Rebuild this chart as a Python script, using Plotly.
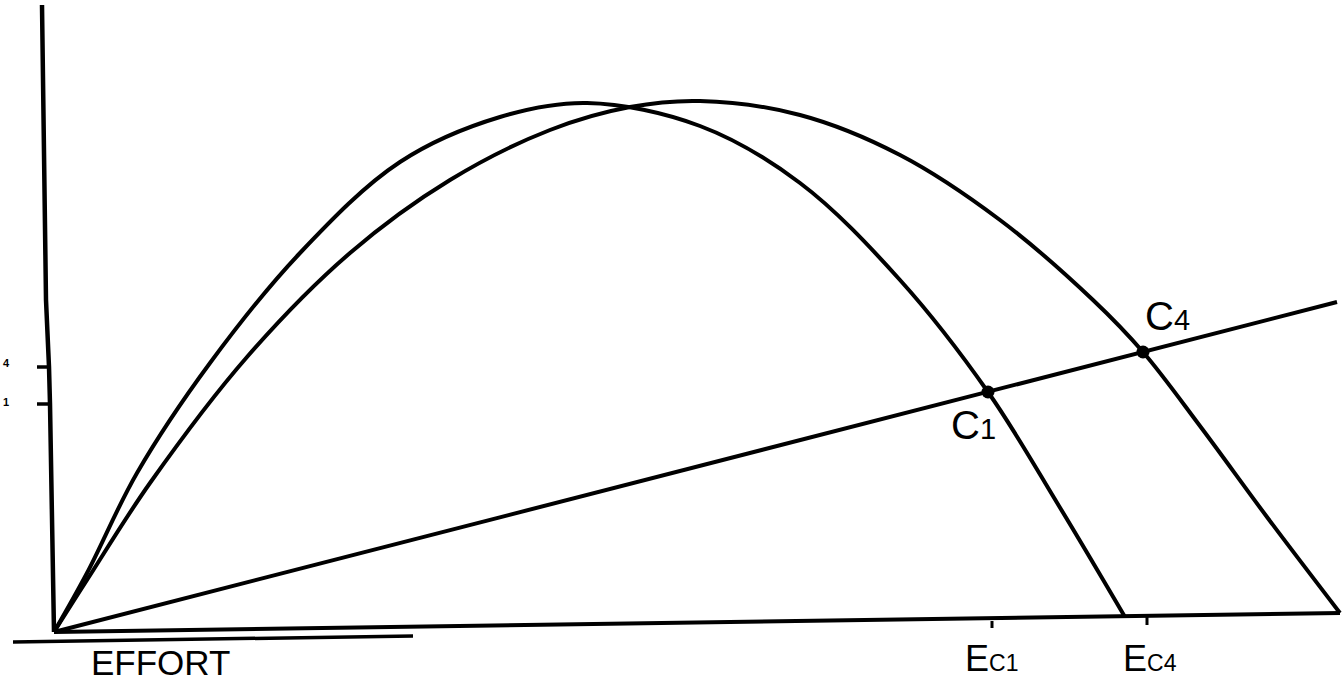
import plotly.graph_objects as go

# Yield-effort curve 1 (peaks earlier) - effort units, yield units
curve1_effort = [0, 3.3, 8.3, 15.6, 24.6, 34.6, 44.6, 53.3, 64.6, 74.6, 84.6, 93.4, 100.5, 107.1]
curve1_yield = [0, 5.9, 15.9, 26.9, 37.9, 47.0, 51.5, 52.9, 50.6, 44.9, 35.2, 24.0, 12.6, 1.5]

# Yield-effort curve 4 (peaks later)
curve4_effort = [0, 3.3, 9.6, 19.3, 29.6, 39.6, 49.6, 57.6, 64.6, 74.6, 84.6, 94.6, 103.9,
                 108.9, 114.6, 121.3, 128.6]
curve4_yield = [0, 5.2, 14.9, 27.5, 37.9, 45.2, 50.2, 52.5, 53.1, 51.7, 47.7, 41.2, 33.2,
                28.0, 20.6, 11.5, 1.9]

# Cost line
cost_effort = [0, 128.3]
cost_value = [0, 33.0]

# Equilibrium points
eq_labels = ["C<span style='font-size:29px'>1</span>", "C<span style='font-size:29px'>4</span>"]
eq_effort = [93.4, 108.9]
eq_value = [24.0, 28.0]
eq_label_x = [91.9, 111.3]
eq_label_y = [20.7, 31.6]

# Axes (as drawn, slightly tilted scan)
xaxis_x = [0, 128.6]
xaxis_y = [0, 1.9]
underline_x = [-4.1, 35.9]
underline_y = [-1.0, -0.4]
yaxis_x = [-1.2, -0.8, -0.5, -0.4, 0]
yaxis_y = [62.7, 33.2, 26.5, 22.8, 0]

# Tick marks
ytick_vals = [26.5, 22.8]
ytick_labels = ["4", "1"]
xtick_vals = [93.8, 109.3]
xtick_top = [1.1, 1.5]
xtick_bottom = [0.4, 0.7]
xtick_labels = ["E<span style='font-size:23px'>C1</span>", "E<span style='font-size:23px'>C4</span>"]

black = "#000000"
fig = go.Figure()

line_w = 4
fig.add_trace(go.Scatter(x=curve1_effort, y=curve1_yield, mode="lines",
                         line=dict(color=black, width=line_w, shape="spline", smoothing=1.0)))
fig.add_trace(go.Scatter(x=curve4_effort, y=curve4_yield, mode="lines",
                         line=dict(color=black, width=line_w, shape="spline", smoothing=1.0)))
fig.add_trace(go.Scatter(x=cost_effort, y=cost_value, mode="lines",
                         line=dict(color=black, width=line_w)))
fig.add_trace(go.Scatter(x=xaxis_x, y=xaxis_y, mode="lines", line=dict(color=black, width=4)))
fig.add_trace(go.Scatter(x=underline_x, y=underline_y, mode="lines", line=dict(color=black, width=3.5)))
fig.add_trace(go.Scatter(x=yaxis_x, y=yaxis_y, mode="lines", line=dict(color=black, width=4.5)))

# y tick marks
for v, vx in zip(ytick_vals, [-0.5, -0.4]):
    fig.add_trace(go.Scatter(x=[-1.7, vx], y=[v, v], mode="lines", line=dict(color=black, width=3.5)))
# x tick marks
for xv, yt, yb in zip(xtick_vals, xtick_top, xtick_bottom):
    fig.add_trace(go.Scatter(x=[xv, xv], y=[yt, yb], mode="lines", line=dict(color=black, width=3)))

fig.add_trace(go.Scatter(x=eq_effort, y=eq_value, mode="markers",
                         marker=dict(color=black, size=13)))

font = "Liberation Sans, Arial, sans-serif"
ann = []
ann.append(dict(x=10.6, y=-3.0, text="EFFORT", font=dict(size=35, family=font, color=black)))
for xv, t in zip([93.7, 109.6], xtick_labels):
    ann.append(dict(x=xv, y=-2.6, text=t, font=dict(size=36, family=font, color=black)))
for lx, ly, t in zip(eq_label_x, eq_label_y, eq_labels):
    ann.append(dict(x=lx, y=ly, text=t, font=dict(size=40, family=font, color=black)))
for v, t in zip([26.9, 23.0], ytick_labels):
    ann.append(dict(x=-4.8, y=v, text="<b>" + t + "</b>", font=dict(size=11, family=font, color=black)))
for a in ann:
    a.update(xref="x", yref="y", showarrow=False)

fig.update_layout(
    width=1344, height=683,
    margin=dict(l=0, r=0, t=0, b=0),
    paper_bgcolor="white", plot_bgcolor="white",
    showlegend=False,
    annotations=ann,
    xaxis=dict(range=[-5.4, 129.0], visible=False, showgrid=False, zeroline=False),
    yaxis=dict(range=[-5.1, 63.2], visible=False, showgrid=False, zeroline=False),
)

fig.write_html("out.html", config={"displayModeBar": False},
               post_script="document.body.style.margin='0';document.body.style.overflow='hidden';")
